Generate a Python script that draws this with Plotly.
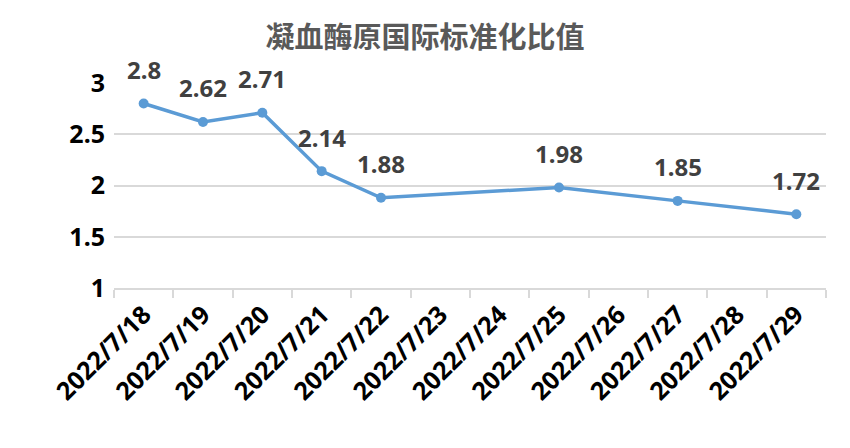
import plotly.graph_objects as go

title = "凝血酶原国际标准化比值"
categories = ["2022/7/18", "2022/7/19", "2022/7/20", "2022/7/21", "2022/7/22", "2022/7/23",
              "2022/7/24", "2022/7/25", "2022/7/26", "2022/7/27", "2022/7/28", "2022/7/29"]
point_dates = ["2022/7/18", "2022/7/19", "2022/7/20", "2022/7/21", "2022/7/22",
               "2022/7/25", "2022/7/27", "2022/7/29"]
point_values = [2.8, 2.62, 2.71, 2.14, 1.88, 1.98, 1.85, 1.72]
y_ticks = [1, 1.5, 2, 2.5, 3]

font_family = "Noto Sans, Noto Sans CJK SC, sans-serif"

fig = go.Figure()
fig.add_trace(go.Scatter(
    x=point_dates, y=point_values, mode="lines+markers",
    line=dict(color="#5B9BD5", width=3.5),
    marker=dict(color="#5B9BD5", size=10),
    hoverinfo="x+y", showlegend=False,
))

for d, v in zip(point_dates, point_values):
    fig.add_annotation(x=d, y=v, text=f"<b>{v:g}</b>", showarrow=False, yshift=34,
                       font=dict(family=font_family, size=24, color="#404040"))

fig.update_layout(
    width=834, height=432,
    margin=dict(l=106, r=16, t=75, b=152, autoexpand=False),
    paper_bgcolor="white", plot_bgcolor="white",
    title=dict(text=f"<b>{title}</b>", x=0.5, xanchor="center", y=1 - 30 / 432, yanchor="middle",
               yref="container", automargin=False,
               font=dict(family="Noto Sans CJK SC, sans-serif", size=29, color="#595959")),
    font=dict(family=font_family),
)

fig.update_xaxes(
    type="category", categoryorder="array", categoryarray=categories,
    range=[-0.5, len(categories) - 0.5], automargin=False,
    tickmode="array", tickvals=categories, ticktext=[f"<b>{c}</b>" for c in categories],
    tickangle=-45, tickson="boundaries", ticks="outside", ticklen=8, tickwidth=2, tickcolor="#D9D9D9",
    showline=True, linecolor="#D9D9D9", linewidth=2, showgrid=False, zeroline=False,
    tickfont=dict(family=font_family, size=25, color="#000000"),
)
fig.update_yaxes(
    range=[1, 3], automargin=False, tickmode="array", tickvals=y_ticks,
    ticktext=[f"<b>{t:g}</b>" for t in y_ticks],
    showgrid=True, gridcolor="#D9D9D9", gridwidth=1.5, zeroline=False, showline=False,
    ticklabelstandoff=8,
    tickfont=dict(family=font_family, size=25, color="#000000"),
)

fig.write_html("out.html")
